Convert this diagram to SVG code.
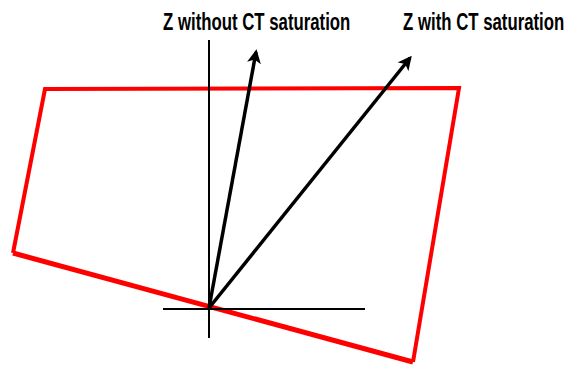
<svg xmlns="http://www.w3.org/2000/svg" width="573" height="366" viewBox="0 0 573 366">
<defs>
<style>
.lbl{font-family:"Liberation Sans",Arial,sans-serif;font-weight:bold;font-size:23px;fill:#000}
.ax{stroke:#000;stroke-width:2;fill:none}
.vec{stroke:#000;stroke-width:3.5;fill:none}
.red{stroke:#ff0000;fill:none;stroke-linejoin:miter}
</style>
<marker id="ah" viewBox="0 0 10 10" refX="8" refY="5" markerWidth="4" markerHeight="4" orient="auto" markerUnits="strokeWidth">
<path d="M0,0 L10,5 L0,10 L2.5,5 z" fill="#000"/>
</marker>
</defs>
<g id="region">
<polyline class="red" stroke-width="4" points="13,253 45,89 459,88 413,362"/>
<line class="red" stroke-width="5" x1="13" y1="253" x2="413" y2="362"/>
</g>
<g id="axes">
<line class="ax" x1="209" y1="40" x2="209" y2="338"/>
<line class="ax" x1="163" y1="309" x2="365" y2="309"/>
</g>
<g id="connectors">
<line class="vec" x1="209" y1="308" x2="256" y2="52" marker-end="url(#ah)"/>
<line class="vec" x1="209" y1="308" x2="410" y2="58" marker-end="url(#ah)"/>
</g>
<g id="label1">
<text class="lbl" transform="translate(163,30) scale(0.73,1)" x="0" y="0">Z without CT saturation</text>
</g>
<g id="label2">
<text class="lbl" transform="translate(403,30) scale(0.73,1)" x="0" y="0">Z with CT saturation</text>
</g>
</svg>
